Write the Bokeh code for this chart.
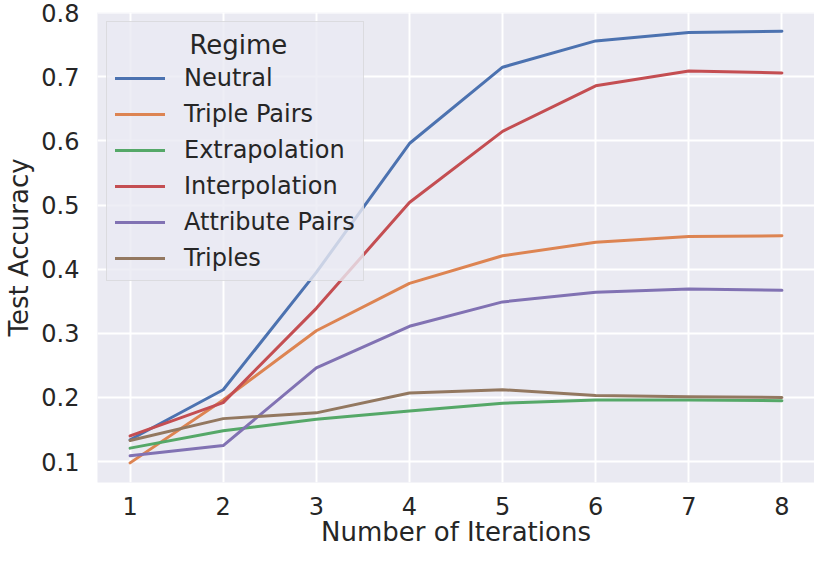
from bokeh.plotting import figure
from bokeh.models import Legend, LegendItem, FixedTicker, Range1d
from bokeh.embed import file_html
from bokeh.resources import INLINE

iterations = [1, 2, 3, 4, 5, 6, 7, 8]
neutral = [0.134, 0.212, 0.395, 0.596, 0.715, 0.756, 0.769, 0.771]
triple_pairs = [0.098, 0.196, 0.304, 0.378, 0.421, 0.442, 0.451, 0.452]
extrapolation = [0.121, 0.148, 0.166, 0.179, 0.191, 0.196, 0.196, 0.195]
interpolation = [0.140, 0.192, 0.339, 0.504, 0.615, 0.686, 0.709, 0.706]
attribute_pairs = [0.109, 0.125, 0.246, 0.311, 0.349, 0.364, 0.369, 0.367]
triples = [0.133, 0.167, 0.176, 0.207, 0.212, 0.203, 0.201, 0.200]

series_names = ["Neutral", "Triple Pairs", "Extrapolation", "Interpolation", "Attribute Pairs", "Triples"]
series_values = [neutral, triple_pairs, extrapolation, interpolation, attribute_pairs, triples]
colors = ["#4c72b0", "#dd8452", "#55a868", "#c44e52", "#8172b3", "#937860"]
x_ticks = [1, 2, 3, 4, 5, 6, 7, 8]
y_ticks = [0.1, 0.2, 0.3, 0.4, 0.5, 0.6, 0.7, 0.8]
legend_title = "Regime"

FONT = "DejaVu Sans"
TXT = "#262626"

p = figure(width=814, height=549, output_backend="svg", toolbar_location=None,
           x_range=Range1d(0.65, 8.35), y_range=Range1d(0.0674, 0.8003),
           min_border_left=97, min_border_right=0, min_border_top=12, min_border_bottom=66)
p.background_fill_color = "#eaeaf2"
p.border_fill_color = "white"
p.outline_line_color = None

for g in (p.xgrid, p.ygrid):
    g.grid_line_color = "white"
    g.grid_line_width = 2

p.xaxis.ticker = FixedTicker(ticks=x_ticks)
p.yaxis.ticker = FixedTicker(ticks=y_ticks)
p.yaxis.major_label_overrides = {t: f"{t:.1f}" for t in y_ticks}

for ax in (p.xaxis, p.yaxis):
    ax.axis_line_color = None
    ax.major_tick_line_color = None
    ax.minor_tick_line_color = None
    ax.major_tick_out = 0
    ax.minor_tick_out = 0
    ax.major_label_text_font = FONT
    ax.major_label_text_font_size = "24px"
    ax.major_label_text_color = TXT
    ax.axis_label_text_font = FONT
    ax.axis_label_text_font_size = "26px"
    ax.axis_label_text_font_style = "normal"
    ax.axis_label_text_color = TXT

p.xaxis.axis_label = "Number of Iterations"
p.yaxis.axis_label = "Test Accuracy"
p.xaxis.major_label_standoff = 14
p.xaxis.axis_label_standoff = -1
p.yaxis.major_label_standoff = 18
p.yaxis.axis_label_standoff = 4

items = []
for name, vals, c in zip(series_names, series_values, colors):
    r = p.line(iterations, vals, line_color=c, line_width=3, line_join="round", line_cap="round")
    items.append(LegendItem(label=name, renderers=[r]))

# matplotlib centres the legend title; pad with non-breaking spaces to centre it
legend = Legend(items=items, location="top_left", title="\u00a0" * 9 + legend_title)
legend.margin = 9
legend.padding = 8
legend.spacing = 8
legend.glyph_width = 50
legend.glyph_height = 28
legend.label_height = 28
legend.label_standoff = 19
legend.label_text_font = FONT
legend.label_text_font_size = "24px"
legend.label_text_color = TXT
legend.title_text_font = FONT
legend.title_text_font_size = "26px"
legend.title_text_font_style = "normal"
legend.title_text_color = TXT
legend.title_standoff = 4
legend.background_fill_color = "#eaeaf2"
legend.background_fill_alpha = 0.8
legend.border_line_color = "#cccccc"
legend.border_line_width = 1.5
p.add_layout(legend, "center")

open("out.html", "w").write(file_html(p, INLINE))
